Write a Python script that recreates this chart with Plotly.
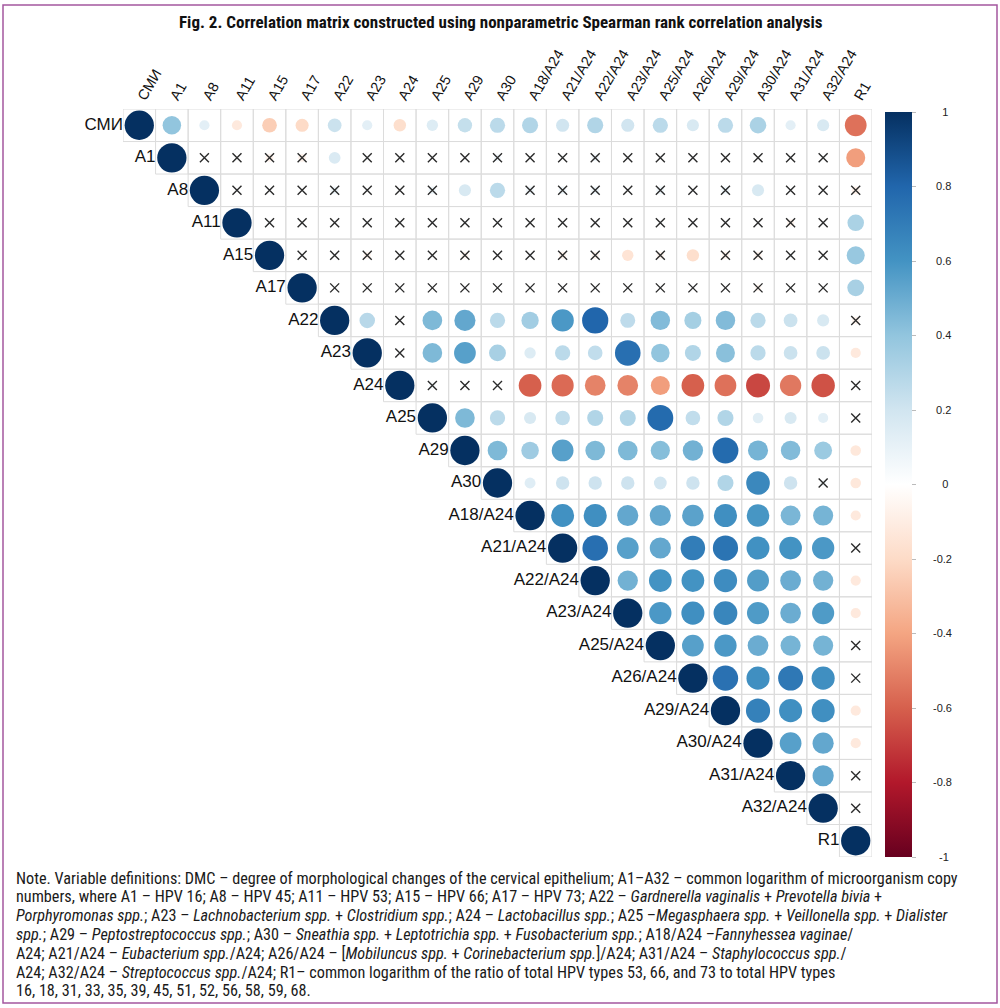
import numpy as np
import plotly.graph_objects as go

# ---------------- data ----------------
variables = ["СМИ", "A1", "A8", "A11", "A15", "A17", "A22", "A23", "A24", "A25", "A29", "A30",
             "A18/A24", "A21/A24", "A22/A24", "A23/A24", "A25/A24", "A26/A24", "A29/A24",
             "A30/A24", "A31/A24", "A32/A24", "R1"]

# Spearman r of each row variable with the columns from the diagonal to the right
row_SMI = [1, 0.40, 0.12, -0.12, -0.25, -0.20, 0.22, 0.12, -0.18, 0.15, 0.24, 0.27, 0.30, 0.20,
           0.30, 0.20, 0.27, 0.17, 0.27, 0.32, 0.12, 0.17, -0.55]
row_A1 = [1, 0.02, 0.02, -0.07, -0.07, 0.16, 0.02, 0.02, 0.02, 0.02, 0.06, 0.02, 0.02, 0.06,
          0.02, 0.02, 0.02, 0.02, 0.02, 0.02, 0.02, -0.42]
row_A8 = [1, 0.02, 0.02, 0.02, 0.07, 0.02, 0.02, 0.07, 0.17, 0.27, 0.07, 0.07, 0.07, 0.02,
          0.07, 0.02, 0.07, 0.17, 0.02, 0.02, -0.07]
row_A11 = [1, 0.02, 0.02, 0.02, 0.02, 0.02, 0.02, 0.02, 0.02, 0.02, 0.02, 0.02, 0.02, 0.02,
           0.02, 0.02, 0.02, -0.06, 0.02, 0.32]
row_A15 = [1, 0.02, 0.02, -0.06, 0.02, 0.02, -0.05, 0.02, 0.02, -0.06, -0.06, -0.15, -0.06,
           -0.18, -0.06, -0.06, 0.02, 0.02, 0.38]
row_A17 = [1, 0.02, 0.02, 0.02, 0.02, 0.02, 0.02, 0.02, 0.02, 0.02, 0.02, 0.02, 0.02, 0.02,
           -0.05, 0.02, 0.02, 0.33]
row_A22 = [1, 0.28, 0.02, 0.45, 0.52, 0.27, 0.35, 0.58, 0.80, 0.26, 0.44, 0.34, 0.44, 0.27,
           0.22, 0.17, -0.06]
row_A23 = [1, 0.02, 0.45, 0.55, 0.33, 0.15, 0.27, 0.25, 0.76, 0.40, 0.30, 0.42, 0.27, 0.22,
           0.22, -0.12]
row_A24 = [1, 0.05, 0.02, 0.02, -0.60, -0.57, -0.50, -0.50, -0.42, -0.60, -0.55, -0.67, -0.53,
           -0.64, 0.02]
row_A25 = [1, 0.45, 0.27, 0.17, 0.25, 0.30, 0.30, 0.78, 0.25, 0.30, 0.13, 0.17, 0.12, 0.02]
row_A29 = [1, 0.45, 0.36, 0.55, 0.45, 0.45, 0.43, 0.48, 0.78, 0.47, 0.44, 0.37, -0.13]
row_A30 = [1, 0.14, 0.21, 0.21, 0.21, 0.19, 0.21, 0.30, 0.65, 0.21, 0.05, -0.13]
row_A18_A24 = [1, 0.61, 0.62, 0.52, 0.52, 0.54, 0.62, 0.59, 0.46, 0.47, -0.12]
row_A21_A24 = [1, 0.76, 0.55, 0.52, 0.70, 0.74, 0.61, 0.60, 0.58, 0.02]
row_A22_A24 = [1, 0.48, 0.60, 0.60, 0.63, 0.56, 0.50, 0.48, -0.12]
row_A23_A24 = [1, 0.58, 0.62, 0.66, 0.57, 0.50, 0.57, -0.12]
row_A25_A24 = [1, 0.55, 0.58, 0.50, 0.47, 0.47, 0.02]
row_A26_A24 = [1, 0.75, 0.62, 0.72, 0.62, 0.02]
row_A29_A24 = [1, 0.68, 0.62, 0.62, -0.12]
row_A30_A24 = [1, 0.55, 0.52, -0.12]
row_A31_A24 = [1, 0.52, 0.02]
row_A32_A24 = [1, 0.02]
row_R1 = [1]

# columns whose correlation with the row variable is not significant (drawn with ×)
nonsig_SMI = []
nonsig_A1 = ["A8", "A11", "A15", "A17", "A23", "A24", "A25", "A29", "A30", "A18/A24", "A21/A24",
             "A22/A24", "A23/A24", "A25/A24", "A26/A24", "A29/A24", "A30/A24", "A31/A24", "A32/A24"]
nonsig_A8 = ["A11", "A15", "A17", "A22", "A23", "A24", "A25", "A18/A24", "A21/A24", "A22/A24",
             "A23/A24", "A25/A24", "A26/A24", "A29/A24", "A31/A24", "A32/A24", "R1"]
nonsig_A11 = ["A15", "A17", "A22", "A23", "A24", "A25", "A29", "A30", "A18/A24", "A21/A24",
              "A22/A24", "A23/A24", "A25/A24", "A26/A24", "A29/A24", "A30/A24", "A31/A24", "A32/A24"]
nonsig_A15 = ["A17", "A22", "A23", "A24", "A25", "A29", "A30", "A18/A24", "A21/A24", "A22/A24",
              "A25/A24", "A29/A24", "A30/A24", "A31/A24", "A32/A24"]
nonsig_A17 = ["A22", "A23", "A24", "A25", "A29", "A30", "A18/A24", "A21/A24", "A22/A24",
              "A23/A24", "A25/A24", "A26/A24", "A29/A24", "A30/A24", "A31/A24", "A32/A24"]
nonsig_A22 = ["A24", "R1"]
nonsig_A23 = ["A24"]
nonsig_A24 = ["A25", "A29", "A30", "R1"]
nonsig_A25 = ["R1"]
nonsig_A29 = []
nonsig_A30 = ["A32/A24"]
nonsig_A18_A24 = []
nonsig_A21_A24 = ["R1"]
nonsig_A22_A24 = []
nonsig_A23_A24 = []
nonsig_A25_A24 = ["R1"]
nonsig_A26_A24 = ["R1"]
nonsig_A29_A24 = []
nonsig_A30_A24 = []
nonsig_A31_A24 = ["R1"]
nonsig_A32_A24 = ["R1"]
nonsig_R1 = []

colorbar_ticks = [-1, -0.8, -0.6, -0.4, -0.2, 0, 0.2, 0.4, 0.6, 0.8, 1]

title_text = "Fig. 2. Correlation matrix constructed using nonparametric Spearman rank correlation analysis"
note_lines = [
    "Note. Variable definitions: DMC – degree of morphological changes of the cervical epithelium; A1–A32 – common logarithm of microorganism copy",
    "numbers, where A1 – HPV 16; A8 – HPV 45; A11 – HPV 53; A15 – HPV 66; A17 – HPV 73; A22 – <i>Gardnerella vaginalis</i> + <i>Prevotella bivia</i> +",
    "<i>Porphyromonas spp.</i>; A23 – <i>Lachnobacterium spp.</i> + <i>Clostridium spp.</i>; A24 – <i>Lactobacillus spp.</i>; A25 –<i>Megasphaera spp.</i> + <i>Veillonella spp.</i> + <i>Dialister</i>",
    "<i>spp.</i>; A29 – <i>Peptostreptococcus spp.</i>; A30 – <i>Sneathia spp.</i> + <i>Leptotrichia spp.</i> + <i>Fusobacterium spp.</i>; A18/A24 –<i>Fannyhessea vaginae</i>/",
    "A24; A21/A24 – <i>Eubacterium spp.</i>/A24; A26/A24 – [<i>Mobiluncus spp.</i> + <i>Corinebacterium spp.</i>]/A24; A31/A24 – <i>Staphylococcus spp.</i>/",
    "A24; A32/A24 – <i>Streptococcus spp.</i>/A24; R1– common logarithm of the ratio of total HPV types 53, 66, and 73 to total HPV types",
    "16, 18, 31, 33, 35, 39, 45, 51, 52, 56, 58, 59, 68.",
]

rows = [row_SMI, row_A1, row_A8, row_A11, row_A15, row_A17, row_A22, row_A23, row_A24, row_A25,
        row_A29, row_A30, row_A18_A24, row_A21_A24, row_A22_A24, row_A23_A24, row_A25_A24,
        row_A26_A24, row_A29_A24, row_A30_A24, row_A31_A24, row_A32_A24, row_R1]
nonsig = [nonsig_SMI, nonsig_A1, nonsig_A8, nonsig_A11, nonsig_A15, nonsig_A17, nonsig_A22,
          nonsig_A23, nonsig_A24, nonsig_A25, nonsig_A29, nonsig_A30, nonsig_A18_A24,
          nonsig_A21_A24, nonsig_A22_A24, nonsig_A23_A24, nonsig_A25_A24, nonsig_A26_A24,
          nonsig_A29_A24, nonsig_A30_A24, nonsig_A31_A24, nonsig_A32_A24, nonsig_R1]

# ---------------- layout geometry ----------------
W, H = 1000, 1008
PL, PR, PT, PB = 123, 872, 109, 857
n = len(variables)
cell = (PR - PL) / n


def px_x(px):
    return (px - PL) / (PR - PL)


def px_y(py):
    return (PB - py) / (PB - PT)


gx, gy, cx, cy, cr, xx, xy = [], [], [], [], [], [], []
for i, vals in enumerate(rows):
    for k, r in enumerate(vals):
        j = i + k
        gx.append(j); gy.append(i)
        cx.append(j); cy.append(i); cr.append(r)
        if variables[j] in nonsig[i]:
            xx.append(j); xy.append(i)

cr = np.array(cr)
sizes = 0.9 * cell * np.sqrt(np.abs(cr))

rdbu = ["#67001F", "#B2182B", "#D6604D", "#F4A582", "#FDDBC7", "#FFFFFF",
        "#D1E5F0", "#92C5DE", "#4393C3", "#2166AC", "#053061"]
colorscale = [[k / 10, c] for k, c in enumerate(rdbu)]

NB = "\u00a0"
tick_text = []
for v in colorbar_ticks:
    s = ("%g" % v)
    pad = {1: 8, 2: 7, 3: 6, 4: 5}.get(len(s), 5)
    tick_text.append(NB * pad + s)

fig = go.Figure()

# grid cells
fig.add_trace(go.Scatter(
    x=gx, y=gy, mode="markers", hoverinfo="skip", showlegend=False,
    marker=dict(symbol="square-open", size=cell, opacity=1, color="#dcdcdc",
                line=dict(width=1, color="#dcdcdc")),
))

# correlation circles
fig.add_trace(go.Scatter(
    x=cx, y=cy, mode="markers", showlegend=False,
    text=["%.2f" % v for v in cr],
    marker=dict(
        symbol="circle", size=sizes, sizemode="diameter", color=cr, opacity=1,
        colorscale=colorscale, cmin=-1, cmax=1, line=dict(width=0),
        colorbar=dict(
            thickness=27, lenmode="pixels", len=745, x=px_x(885), xanchor="left", xpad=0,
            y=px_y(484.5), yanchor="middle", ypad=0, outlinewidth=0,
            tickvals=colorbar_ticks, ticktext=tick_text, ticks="outside", ticklen=4,
            tickcolor="#bbbbbb",
            tickfont=dict(family="Arial, Liberation Sans, sans-serif", size=11, color="#222222"),
        ),
    ),
))

# non-significant markers
fig.add_trace(go.Scatter(
    x=xx, y=xy, mode="markers", hoverinfo="skip", showlegend=False,
    marker=dict(symbol="x-thin", size=9, opacity=1, color="#2b2b2b",
                line=dict(width=1.4, color="#2b2b2b")),
))

# row labels next to the diagonal
fig.add_trace(go.Scatter(
    x=[i - 0.5 for i in range(n)], y=list(range(n)), mode="text", text=variables,
    textposition="middle left", hoverinfo="skip", showlegend=False, cliponaxis=False,
    textfont=dict(family="Arial, Liberation Sans, sans-serif", size=17, color="#111111"),
))

fig.update_xaxes(
    range=[-0.5, n - 0.5], side="top", tickmode="array", tickvals=list(range(n)),
    ticktext=variables, tickangle=-60, showgrid=False, zeroline=False, showline=False,
    ticks="", tickfont=dict(family="Arial, Liberation Sans, sans-serif", size=14.5, color="#111111"),
    fixedrange=True,
)
fig.update_yaxes(range=[n - 0.5, -0.5], visible=False, showgrid=False, zeroline=False, fixedrange=True)

narrow = "Liberation Sans Narrow, Arial Narrow, Roboto Condensed, Roboto, sans-serif"

annotations = [
    dict(text="<b>" + title_text + "</b>", x=px_x(501), y=px_y(22), xref="paper", yref="paper",
         xanchor="center", yanchor="middle", showarrow=False,
         font=dict(family=narrow, size=17, color="#111111")),
]
for k, line in enumerate(note_lines):
    annotations.append(dict(
        text=line, x=px_x(14), y=px_y(878 + 18.8 * k), xref="paper", yref="paper",
        xanchor="left", yanchor="middle", align="left", showarrow=False,
        font=dict(family=narrow, size=16.2, color="#1a1a1a")))

fig.update_layout(
    width=W, height=H, autosize=False,
    margin=dict(l=PL, r=W - PR, t=PT, b=H - PB, pad=0),
    paper_bgcolor="white", plot_bgcolor="white",
    annotations=annotations,
    shapes=[
        dict(type="rect", xref="paper", yref="paper", x0=px_x(3), x1=px_x(997),
             y0=px_y(1003), y1=px_y(5), line=dict(color="#a4579f", width=1.5),
             fillcolor="rgba(0,0,0,0)", layer="below"),
    ],
)

fig.write_html("out.html")
